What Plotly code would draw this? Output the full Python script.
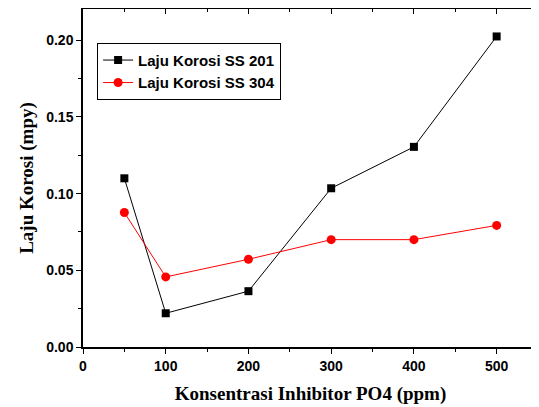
import plotly.graph_objects as go

concentration = [50, 100, 200, 300, 400, 500]
ss201 = [0.110, 0.022, 0.0364, 0.1035, 0.1305, 0.2025]
ss304 = [0.0877, 0.0457, 0.0572, 0.070, 0.070, 0.0793]
x_ticks = [0, 100, 200, 300, 400, 500]
y_ticks = [0.00, 0.05, 0.10, 0.15, 0.20]
y_tick_labels = ["0.00", "0.05", "0.10", "0.15", "0.20"]
series_names = ["Laju Korosi SS 201", "Laju Korosi SS 304"]

xr = [0, 550]
yr = [0, 0.2204]

fig = go.Figure()
fig.add_trace(go.Scatter(
    x=concentration, y=ss201, mode="lines+markers", name="<b>" + series_names[0] + "</b>",
    line=dict(color="black", width=1),
    marker=dict(symbol="square", size=8, color="black"),
))
fig.add_trace(go.Scatter(
    x=concentration, y=ss304, mode="lines+markers", name="<b>" + series_names[1] + "</b>",
    line=dict(color="#ff0000", width=1),
    marker=dict(symbol="circle", size=9, color="#ff0000"),
))

sans = "Liberation Sans, Arial"
serif = "Liberation Serif, Times New Roman"

# the page body has an 8px margin; the figure is sized to fit the 539x407 window
fig.update_layout(
    width=531, height=399,
    margin=dict(l=75, r=1, t=1, b=60, autoexpand=False),
    paper_bgcolor="white", plot_bgcolor="white",
    showlegend=True,
    legend=dict(
        x=0.031, y=0.9, xanchor="left", yanchor="top",
        bordercolor="black", borderwidth=1, bgcolor="white",
        font=dict(family=sans, size=15, color="black"),
        tracegroupgap=0, itemwidth=30,
    ),
    xaxis=dict(
        range=xr, tickvals=x_ticks, ticktext=["<b>%d</b>" % v for v in x_ticks],
        ticks="outside", ticklen=5, tickwidth=1, tickcolor="black",
        minor=dict(tickvals=[50, 150, 250, 350, 450, 550], ticks="outside", ticklen=3, tickcolor="black"),
        showline=True, linecolor="black", linewidth=1.5, showgrid=False, zeroline=False,
        tickfont=dict(family=sans, size=14, color="black"),
        title=dict(text="<b>Konsentrasi Inhibitor PO4 (ppm)</b>", font=dict(family=serif, size=19, color="black"), standoff=14),
        automargin=False,
    ),
    yaxis=dict(
        range=yr, tickvals=y_ticks, ticktext=["<b>%s</b>" % t for t in y_tick_labels],
        ticks="outside", ticklen=5, tickwidth=1, tickcolor="black",
        minor=dict(tickvals=[0.025, 0.075, 0.125, 0.175], ticks="outside", ticklen=3, tickcolor="black"),
        showline=True, linecolor="black", linewidth=1.5, showgrid=False, zeroline=False,
        tickfont=dict(family=sans, size=14, color="black"),
        title=dict(text="<b>Laju Korosi (mpy)</b>", font=dict(family=serif, size=19, color="black"), standoff=8),
        automargin=False,
    ),
    xaxis2=dict(
        range=xr, overlaying="x", side="top", tickvals=x_ticks, showticklabels=False,
        ticks="inside", ticklen=5, tickcolor="black",
        minor=dict(tickvals=[50, 150, 250, 350, 450, 550], ticks="inside", ticklen=3, tickcolor="black"),
        showline=True, linecolor="black", linewidth=1.5, showgrid=False, zeroline=False,
    ),
    yaxis2=dict(
        range=yr, overlaying="y", side="right", tickvals=y_ticks, showticklabels=False,
        ticks="inside", ticklen=5, tickcolor="black",
        minor=dict(tickvals=[0.025, 0.075, 0.125, 0.175], ticks="inside", ticklen=3, tickcolor="black"),
        showline=True, linecolor="black", linewidth=1.5, showgrid=False, zeroline=False,
    ),
)
fig.add_trace(go.Scatter(x=[None], y=[None], xaxis="x2", yaxis="y2", showlegend=False, hoverinfo="skip"))

fig.write_html("out.html")
